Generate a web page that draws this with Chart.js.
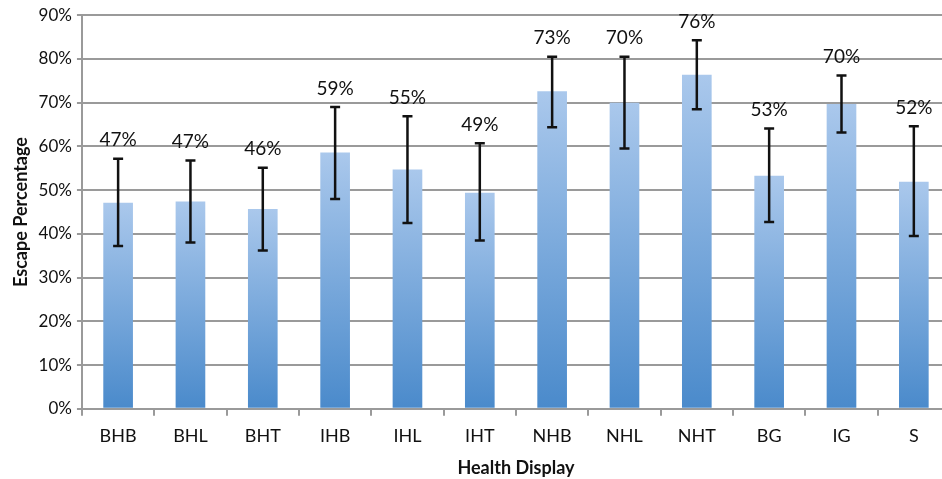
<!DOCTYPE html>
<html>
<head>
<meta charset="utf-8">
<script src="https://cdn.jsdelivr.net/npm/chart.js@4/dist/chart.umd.min.js"></script>
<style>
html,body{margin:0;padding:0;background:#fff;overflow:hidden;}
#wrap{width:960px;height:479px;position:relative;}
</style>
</head>
<body>
<div id="wrap"><canvas id="c" width="960" height="479"></canvas></div>
<script>
const categories = ['BHB','BHL','BHT','IHB','IHL','IHT','NHB','NHL','NHT','BG','IG','S'];
const escapeValues = [0.471,0.474,0.457,0.586,0.547,0.494,0.726,0.700,0.764,0.533,0.697,0.519];
const errorHigh = [0.572,0.568,0.551,0.690,0.669,0.607,0.805,0.805,0.843,0.641,0.762,0.646];
const errorLow  = [0.372,0.380,0.362,0.480,0.425,0.385,0.644,0.595,0.685,0.427,0.632,0.395];
const yTickValues = [0,0.1,0.2,0.3,0.4,0.5,0.6,0.7,0.8,0.9];

const FONT = 'Lato, "Liberation Sans", sans-serif';

const errorBarPlugin = {
  id: 'errorBars',
  afterDatasetsDraw(chart) {
    const {ctx, scales:{x, y}} = chart;
    ctx.save();
    ctx.strokeStyle = '#111';
    ctx.lineWidth = 2.5;
    ctx.lineCap = 'butt';
    categories.forEach((c, i) => {
      const px = x.getPixelForValue(i);
      const yh = y.getPixelForValue(errorHigh[i]);
      const yl = y.getPixelForValue(errorLow[i]);
      ctx.beginPath();
      ctx.moveTo(px, yh); ctx.lineTo(px, yl);
      ctx.moveTo(px - 5, yh); ctx.lineTo(px + 5, yh);
      ctx.moveTo(px - 5, yl); ctx.lineTo(px + 5, yl);
      ctx.stroke();
    });
    ctx.fillStyle = '#111';
    ctx.font = '19px ' + FONT;
    ctx.textAlign = 'center';
    ctx.textBaseline = 'bottom';
    categories.forEach((c, i) => {
      const px = x.getPixelForValue(i);
      const yh = y.getPixelForValue(errorHigh[i]);
      ctx.fillText(Math.round(escapeValues[i] * 100) + '%', px, yh - 9);
    });
    ctx.restore();
  }
};

new Chart(document.getElementById('c'), {
  type: 'bar',
  data: {
    labels: categories,
    datasets: [{
      data: escapeValues,
      barPercentage: 0.41,
      categoryPercentage: 1,
      backgroundColor(context) {
        const chart = context.chart;
        const ys = chart.scales && chart.scales.y;
        if (!ys || context.dataIndex === undefined) return '#7aa7dc';
        const top = ys.getPixelForValue(escapeValues[context.dataIndex]);
        const bot = ys.getPixelForValue(0);
        if (!isFinite(top) || !isFinite(bot) || top === bot) return '#7aa7dc';
        const g = chart.ctx.createLinearGradient(0, top, 0, bot);
        g.addColorStop(0, '#aac8ec');
        g.addColorStop(1, '#4a8acb');
        return g;
      },
      borderWidth: 0
    }]
  },
  options: {
    responsive: false,
    animation: false,
    devicePixelRatio: 1,
    layout: { padding: { left: 10, right: 10, top: 14, bottom: 0 } },
    plugins: { legend: { display: false }, tooltip: { enabled: false } },
    scales: {
      x: {
        offset: true,
        grid: { display: true, drawOnChartArea: false, drawTicks: true, tickLength: 7, color: '#9a9a9a', lineWidth: 2, offset: true },
        border: { display: true, color: '#9a9a9a', width: 2 },
        ticks: { color: '#111', font: { family: FONT, size: 18 }, padding: 10 },
        title: { display: true, text: 'Health Display', color: '#111', font: { family: FONT, size: 18, weight: 'bold' }, padding: { top: 0, bottom: 0 } }
      },
      y: {
        min: 0, max: 0.9,
        afterBuildTicks(axis) { axis.ticks = yTickValues.map(v => ({ value: v })); },
        grid: { color: '#9a9a9a', lineWidth: 2, tickLength: 5 },
        border: { display: true, color: '#9a9a9a', width: 2 },
        ticks: { color: '#111', font: { family: FONT, size: 17 }, padding: 5, callback: v => Math.round(v * 100) + '%' },
        title: { display: true, text: 'Escape Percentage', color: '#111', font: { family: FONT, size: 18, weight: 'bold' }, padding: { top: 0, bottom: 2 } }
      }
    }
  },
  plugins: [errorBarPlugin]
});
</script>
</body>
</html>
